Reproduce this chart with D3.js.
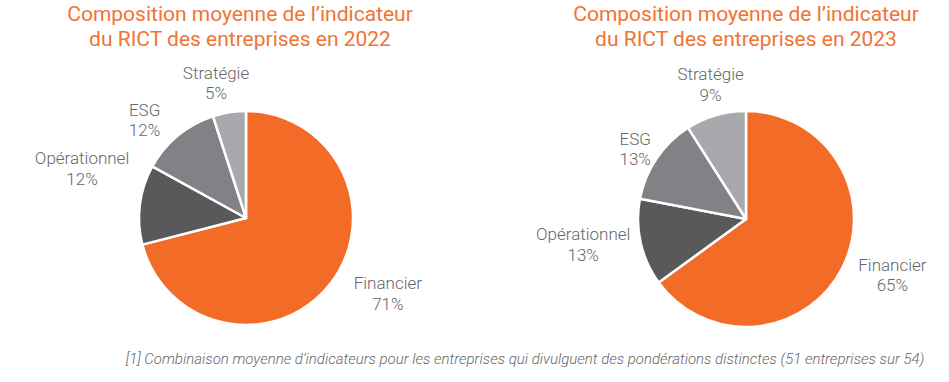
<!DOCTYPE html>
<html><head><meta charset="utf-8">
<script src="https://cdn.jsdelivr.net/npm/d3@7"></script>
<style>
html,body{margin:0;padding:0;background:#fff;}
svg{display:block;}
text{font-family:Roboto,"Noto Sans",sans-serif;}
</style></head>
<body><svg id="c" width="949" height="382"></svg>
<script>
const categories = ["Financier", "Opérationnel", "ESG", "Stratégie"];
const values2022 = [71, 12, 12, 5];
const values2023 = [65, 13, 13, 9];
const titles2022 = ["Composition moyenne de l\u2019indicateur", "du RICT des entreprises en 2022"];
const titles2023 = ["Composition moyenne de l\u2019indicateur", "du RICT des entreprises en 2023"];
const footnote = "[1] Combinaison moyenne d\u2019indicateurs pour les entreprises qui divulguent des pondérations distinctes (51 entreprises sur 54)";
const colors = ["#F26B27", "#58595B", "#808285", "#A7A9AC"];

const svg = d3.select("#c");
const color = d3.scaleOrdinal().domain(categories).range(colors);

// layout: pie centre, radius, title centre, per-label nudges
const charts = [
  {values: values2022, titles: titles2022, cx: 246, cy: 218, r: 107, tx: 240,
   nudge: [[36,-11],[-31,-37],[-16,1],[-9,-7]]},
  {values: values2023, titles: titles2023, cx: 746, cy: 219, r: 108, tx: 746,
   nudge: [[27,-9],[-32,-8],[0,1],[2,-10]]}
];

charts.forEach(ch => {
  const data = categories.map((c, i) => ({cat: c, v: ch.values[i]}));
  const pie = d3.pie().value(d => d.v).sort(null);
  const arcs = pie(data);
  const arc = d3.arc().innerRadius(0).outerRadius(ch.r);
  const labelR = 134;
  const labelArc = d3.arc().innerRadius(labelR).outerRadius(labelR);

  // titles
  const t = svg.append("text").attr("x", ch.tx).attr("text-anchor", "middle")
    .attr("fill", "#F07433").attr("font-size", 21).attr("font-weight", 400);
  ch.titles.forEach((s, i) => t.append("tspan").attr("x", ch.tx).attr("y", 21 + i * 25).text(s));

  const g = svg.append("g").attr("transform", `translate(${ch.cx},${ch.cy})`);
  g.selectAll("path").data(arcs).join("path")
    .attr("d", arc)
    .attr("fill", d => color(d.data.cat))
    .attr("stroke", "#fff").attr("stroke-width", 2.5).attr("stroke-linejoin", "round");

  const lbl = g.selectAll("text.lbl").data(arcs).join("text")
    .attr("class", "lbl")
    .attr("text-anchor", "middle")
    .attr("fill", "#666769")
    .attr("font-size", 17)
    .attr("font-weight", 300)
    .attr("transform", (d, i) => {
      const [x, y] = labelArc.centroid(d);
      return `translate(${x + ch.nudge[i][0]},${y + ch.nudge[i][1]})`;
    });
  lbl.append("tspan").attr("x", 0).attr("y", 0).text(d => d.data.cat);
  lbl.append("tspan").attr("x", 0).attr("y", 20.5).text(d => d.data.v + "%");
});

svg.append("text").attr("x", 525).attr("y", 364).attr("text-anchor", "middle")
  .attr("fill", "#666769").attr("font-size", 15).attr("font-style", "italic").attr("font-weight", 300)
  .text(footnote);
</script>
</body></html>
